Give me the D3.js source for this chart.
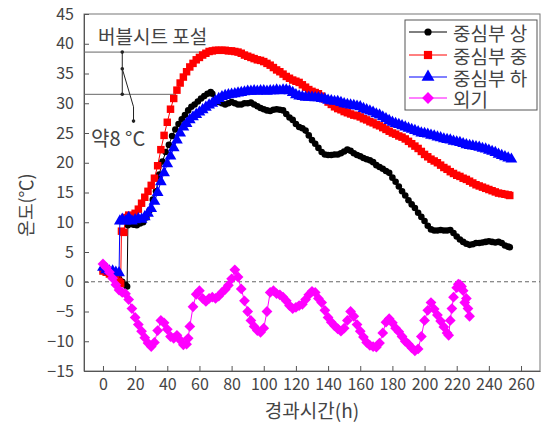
<!DOCTYPE html>
<html><head><meta charset="utf-8">
<script src="https://cdn.jsdelivr.net/npm/d3@7"></script>
<style>
html,body{margin:0;padding:0;background:#fff;}
svg{display:block;}
text{font-family:"Noto Sans CJK KR","Noto Sans",sans-serif;}
</style></head>
<body>
<script>
// ---- data ----
const seriesNames = ["중심부 상","중심부 중","중심부 하","외기"];
const xTicks = [0,20,40,60,80,100,120,140,160,180,200,220,240,260];
const yTicks = [-15,-10,-5,0,5,10,15,20,25,30,35,40,45];

const upper = [[0,1.8],[2,1.5],[4,1.3],[6,1.0],[8,0.8],[10,0.5],[12,0.0],[14,-0.5],[15,-0.8],[15.5,9.5],
[17,9.8],[19,9.6],[21,9.5],[23,9.8],[25,10.0],[27,10.8],[29,12.0],[31,13.8],[33,15.2],[35,18.0],[37,20.2],[39,21.8],[41,23.0],[43,24.5],[45,25.6],[47,26.5],[49,27.3],[51,28.0],[53,28.8],[55,29.4],[57,29.8],[59,30.3],[61,30.8],[63,31.2],[65,31.6],[67,31.9],
[68,31.6],[70,30.6],[72,30.2],[74,30.0],[76,29.8],[78,30.0],[80,30.2],[82,30.0],[84,29.8],[86,29.8],[88,30.0],[90,30.0],[92,30.1],[94,29.8],[96,29.5],[98,29.2],[100,29.0],[102,28.8],[104,28.7],[106,28.9],[108,29.0],[110,28.9],[112,28.8],[114,28.2],[116,27.6],[118,27.2],[120,26.5],[122,26.0],[124,25.8],[126,25.4],[128,24.6],[130,23.8],[132,23.2],[134,22.5],[136,21.8],[138,21.4],[140,21.3],[142,21.3],[144,21.4],[146,21.4],[148,21.6],[150,21.9],[152,22.2],[154,22.0],[156,21.6],[158,21.3],[160,21.1],[162,20.8],[164,20.6],[166,20.4],[168,20.1],[170,19.6],[172,19.3],[174,19.0],[176,18.6],[178,18.3],[180,17.5],[182,16.8],[184,16.0],[186,15.2],[188,14.5],[190,13.7],[192,13.0],[194,12.4],[196,11.6],[198,10.9],[200,10.2],[202,9.4],[204,8.8],[206,8.6],[208,8.6],[210,8.7],[212,8.6],[214,8.6],[216,8.7],[218,8.2],[220,7.6],[222,7.1],[224,6.7],[226,6.4],[228,6.2],[230,6.3],[232,6.5],[234,6.5],[236,6.6],[238,6.7],[240,6.8],[242,6.7],[244,6.6],[246,6.7],[248,6.5],[250,6.1],[252,5.9],[253,5.8]];

const middle = [[0,1.8],[2,1.6],[4,1.3],[6,1.0],[8,0.6],[10,0.0],[11,-0.3],[11.5,8.5],[13,8.3],[14,10.8],[16,11.2],[18,11.0],[20,11.5],[22,12.2],[24,13.2],[26,14.2],[28,15.2],[30,16.2],[32,17.4],[34,19.5],[36,22.2],[38,24.6],[40,26.8],[42,29.0],[44,30.8],[46,32.2],[48,33.4],[50,34.4],[52,35.3],[54,36.1],[56,36.7],[58,37.3],[60,37.7],[62,38.1],[64,38.4],[66,38.7],[68,38.8],[70,38.9],[72,38.9],[74,38.9],[76,38.9],[78,38.8],[80,38.8],[82,38.7],[84,38.6],[86,38.4],[88,38.1],[90,37.9],[92,37.7],[94,37.5],[96,37.3],[98,37.2],[100,37.0],[102,36.7],[104,36.4],[106,36.0],[108,35.6],[110,35.3],[112,34.9],[114,34.5],[116,34.2],[118,33.9],[120,33.7],[122,33.5],[124,33.1],[126,32.7],[128,32.3],[130,32.0],[132,31.8],[134,31.6],[136,31.2],[138,30.7],[140,30.2],[142,29.8],[144,29.4],[146,29.1],[148,28.9],[150,28.6],[152,28.4],[154,28.2],[156,28.0],[158,27.9],[160,27.7],[162,27.4],[164,27.2],[166,26.9],[168,26.7],[170,26.4],[172,26.2],[174,25.9],[176,25.6],[178,25.3],[180,25.0],[182,24.8],[184,24.5],[186,24.3],[188,24.0],[190,23.6],[192,23.2],[194,22.8],[196,22.4],[198,21.9],[200,21.4],[202,21.0],[204,20.6],[206,20.3],[208,20.0],[210,19.6],[212,19.2],[214,18.9],[216,18.5],[218,18.2],[220,17.9],[222,17.7],[224,17.4],[226,17.2],[228,16.9],[230,16.6],[232,16.3],[234,16.1],[236,15.9],[238,15.7],[240,15.5],[242,15.3],[244,15.1],[246,14.9],[248,14.8],[250,14.7],[252,14.6],[253,14.5]];

const lower = [[0,2.4],[2,2.0],[4,1.8],[6,1.8],[8,1.6],[10,1.5],[10.5,10.2],[12,10.5],[14,10.2],[16,10.8],[18,10.2],[20,10.4],[22,10.6],[24,10.5],[26,10.9],[28,11.5],[30,12.3],[32,13.5],[34,15.0],[36,16.8],[38,18.3],[40,19.8],[42,21.1],[44,22.5],[46,23.8],[48,25.0],[50,26.0],[52,26.6],[54,27.2],[56,27.7],[58,28.1],[60,28.5],[62,28.9],[64,29.3],[66,29.7],[68,30.0],[70,30.4],[72,30.8],[74,31.1],[76,31.3],[78,31.4],[80,31.5],[82,31.6],[84,31.7],[86,31.8],[88,31.9],[90,32.0],[92,32.0],[94,32.1],[96,32.0],[98,32.1],[100,32.1],[102,32.0],[104,32.1],[106,32.1],[108,32.2],[110,32.1],[112,32.2],[114,32.2],[116,32.1],[118,31.8],[120,31.4],[122,31.2],[124,31.1],[126,31.0],[128,31.0],[130,31.0],[132,30.9],[134,30.9],[136,30.8],[138,30.7],[140,30.5],[142,30.4],[144,30.3],[146,30.3],[148,30.1],[150,29.9],[152,29.8],[154,29.7],[156,29.6],[158,29.5],[160,29.4],[162,29.1],[164,28.9],[166,28.7],[168,28.5],[170,28.2],[172,28.0],[174,27.7],[176,27.4],[178,27.1],[180,26.8],[182,26.6],[184,26.4],[186,26.2],[188,26.0],[190,25.8],[192,25.6],[194,25.4],[196,25.2],[198,25.0],[200,24.9],[202,24.8],[204,24.6],[206,24.5],[208,24.3],[210,24.2],[212,24.0],[214,23.9],[216,23.8],[218,23.6],[220,23.5],[222,23.4],[224,23.2],[226,23.0],[228,22.9],[230,22.8],[232,22.7],[234,22.6],[236,22.4],[238,22.3],[240,22.1],[242,21.9],[244,21.7],[246,21.4],[248,21.2],[250,21.0],[252,20.8],[254,20.6]];

const outside = [[0,3.0],[2,2.4],[4,1.6],[6,0.6],[8,-0.5],[10,-1.4],[12,-1.8],[14,-2.0],[16,-3.0],[18,-4.5],[20,-6.0],[22,-7.2],[24,-8.3],[26,-9.4],[28,-10.3],[30,-10.9],[32,-10.2],[34,-8.2],[36,-6.5],[38,-6.9],[40,-8.0],[42,-9.2],[44,-9.5],[46,-9.0],[48,-9.8],[50,-10.6],[52,-10.5],[53,-9.5],[54,-7.5],[56,-4.2],[58,-2.1],[60,-1.5],[62,-2.8],[64,-3.3],[66,-2.8],[68,-2.6],[70,-2.8],[72,-2.4],[74,-1.8],[76,-1.3],[78,-0.6],[80,0.5],[82,2.0],[84,0.8],[86,-1.2],[88,-3.2],[90,-5.0],[92,-6.5],[94,-7.5],[96,-8.2],[98,-8.5],[100,-7.8],[102,-5.0],[104,-1.8],[106,-1.5],[108,-2.0],[110,-2.2],[112,-2.6],[114,-3.2],[116,-4.0],[118,-4.5],[120,-4.3],[122,-4.0],[124,-3.8],[126,-3.0],[128,-2.2],[130,-1.6],[132,-1.8],[134,-2.8],[136,-3.5],[138,-4.8],[140,-6.0],[142,-6.8],[144,-7.4],[146,-7.9],[148,-8.3],[150,-7.8],[152,-6.5],[154,-5.0],[156,-5.8],[158,-7.2],[160,-8.3],[162,-9.3],[164,-10.2],[166,-10.7],[168,-10.9],[170,-11.0],[172,-10.3],[174,-8.6],[176,-6.8],[178,-6.2],[180,-6.9],[182,-7.8],[184,-8.4],[186,-9.2],[188,-10.0],[190,-10.5],[192,-11.1],[194,-11.6],[196,-11.3],[198,-9.2],[200,-6.5],[202,-4.8],[204,-3.5],[206,-4.6],[208,-5.6],[210,-6.6],[212,-7.6],[214,-8.6],[215,-9.0],[216,-6.5],[217,-4.5],[218,-2.6],[220,-1.0],[221,-0.4],[222,-0.5],[223,-0.8],[224,-1.5],[225,-3.5],[226,-2.8],[227,-4.5],[228,-5.8]];

// annotation values
const refLevels = [38.6, 31.5];
const refEnds = [66, 45];
const refDots = [[12,38.6],[12,35.8],[12,31.5]];
const refPath = [[12,35.8],[19,29.4],[19,27.0]];
const noteTop = "버블시트 포설";
const noteDiff = "약8 °C";
const xTitle = "경과시간(h)";
const yTitle = "온도(℃)";

// ---- chart ----
const W = 544, H = 424;
const svg = d3.select("body").append("svg").attr("width", W).attr("height", H);
const x = d3.scaleLinear().domain([-11.8, 271.8]).range([84, 540]);
const y = d3.scaleLinear().domain([-15, 45]).range([371, 14]);

const axisColor = "#555", textColor = "#444";

// frame
svg.append("rect").attr("x", 84).attr("y", 14).attr("width", 456).attr("height", 357)
  .attr("fill", "none").attr("stroke", "#777").attr("stroke-width", 1);

// axes
const gx = svg.append("g").attr("transform", "translate(0,371)")
  .call(d3.axisBottom(x).tickValues(xTicks).tickSize(-5).tickPadding(8).tickSizeOuter(0));
const gy = svg.append("g").attr("transform", "translate(84,0)")
  .call(d3.axisLeft(y).tickValues(yTicks).tickSize(-5).tickPadding(10).tickSizeOuter(0));
[gx, gy].forEach(g => {
  g.select(".domain").attr("stroke", axisColor);
  g.selectAll(".tick line").attr("stroke", axisColor);
  g.selectAll(".tick text").attr("fill", textColor).style("font-size", "16px")
    .style("font-family", "'Noto Sans CJK KR','Noto Sans',sans-serif")
    .text(d => d < 0 ? "\u2212" + Math.abs(d) : d);
});

// zero dashed line
svg.append("line").attr("x1", 84).attr("x2", 540).attr("y1", y(0)).attr("y2", y(0))
  .attr("stroke", "#666").attr("stroke-dasharray", "4,3").attr("stroke-width", 1);

// reference lines
refLevels.forEach((v, i) => {
  svg.append("line").attr("x1", 84).attr("x2", x(refEnds[i]))
    .attr("y1", y(v)).attr("y2", y(v)).attr("stroke", "#666").attr("stroke-width", 1);
});
svg.append("line").attr("x1", x(12)).attr("x2", x(12)).attr("y1", y(38.6)).attr("y2", y(31.5))
  .attr("stroke", "#222").attr("stroke-width", 1);
svg.append("path").attr("d", d3.line().x(d => x(d[0])).y(d => y(d[1]))(refPath))
  .attr("fill", "none").attr("stroke", "#222").attr("stroke-width", 1);
svg.selectAll(".rdot").data(refDots.concat([refPath[2]])).enter().append("circle")
  .attr("cx", d => x(d[0])).attr("cy", d => y(d[1])).attr("r", 1.8).attr("fill", "#222");

svg.append("text").attr("x", 98).attr("y", 35).attr("dominant-baseline", "central")
  .attr("fill", textColor).style("font-size", "19px").text(noteTop);
svg.append("text").attr("x", 91).attr("y", 137).attr("dominant-baseline", "central")
  .attr("fill", textColor).style("font-size", "20px").text(noteDiff);

// titles
svg.append("text").attr("x", 312).attr("y", 409).attr("text-anchor", "middle")
  .attr("dominant-baseline", "central").attr("fill", textColor).style("font-size", "19px").text(xTitle);
svg.append("text").attr("transform", "translate(25,205) rotate(-90)").attr("text-anchor", "middle")
  .attr("dominant-baseline", "central").attr("fill", textColor).style("font-size", "18px").text(yTitle);

// series
const colors = ["#000000", "#ff0000", "#0000ff", "#ff00ff"];
const shapes = [d3.symbolCircle, d3.symbolSquare, d3.symbolTriangle, d3.symbolSquare];
const sizes = [34, 56, 60, 58];
const rotations = [0, 0, 0, 45];
const allSeries = [upper, middle, lower, outside];
const line = d3.line().x(d => x(d[0])).y(d => y(d[1]));

allSeries.forEach((data, i) => {
  const g = svg.append("g");
  g.append("path").attr("d", line(data)).attr("fill", "none")
    .attr("stroke", colors[i]).attr("stroke-width", 1);
  g.selectAll("path.m").data(data).enter().append("path").attr("class", "m")
    .attr("transform", d => `translate(${x(d[0])},${y(d[1])}) rotate(${rotations[i]})`)
    .attr("d", d3.symbol().type(shapes[i]).size(sizes[i]))
    .attr("fill", colors[i]);
});

// legend
const lg = svg.append("g");
lg.append("rect").attr("x", 405).attr("y", 20).attr("width", 132).attr("height", 90)
  .attr("fill", "#fff").attr("stroke", "#555").attr("stroke-width", 1);
const rowY = [32, 55, 77, 98];
seriesNames.forEach((name, i) => {
  lg.append("line").attr("x1", 409).attr("x2", 447).attr("y1", rowY[i]).attr("y2", rowY[i])
    .attr("stroke", colors[i]).attr("stroke-width", 1);
  lg.append("path").attr("transform", `translate(428,${rowY[i]}) rotate(${rotations[i]})`)
    .attr("d", d3.symbol().type(shapes[i]).size(sizes[i] * 1.2)).attr("fill", colors[i]);
  lg.append("text").attr("x", 453).attr("y", rowY[i]).attr("dominant-baseline", "central")
    .attr("fill", textColor).style("font-size", "19px").text(name);
});
</script>
</body></html>
